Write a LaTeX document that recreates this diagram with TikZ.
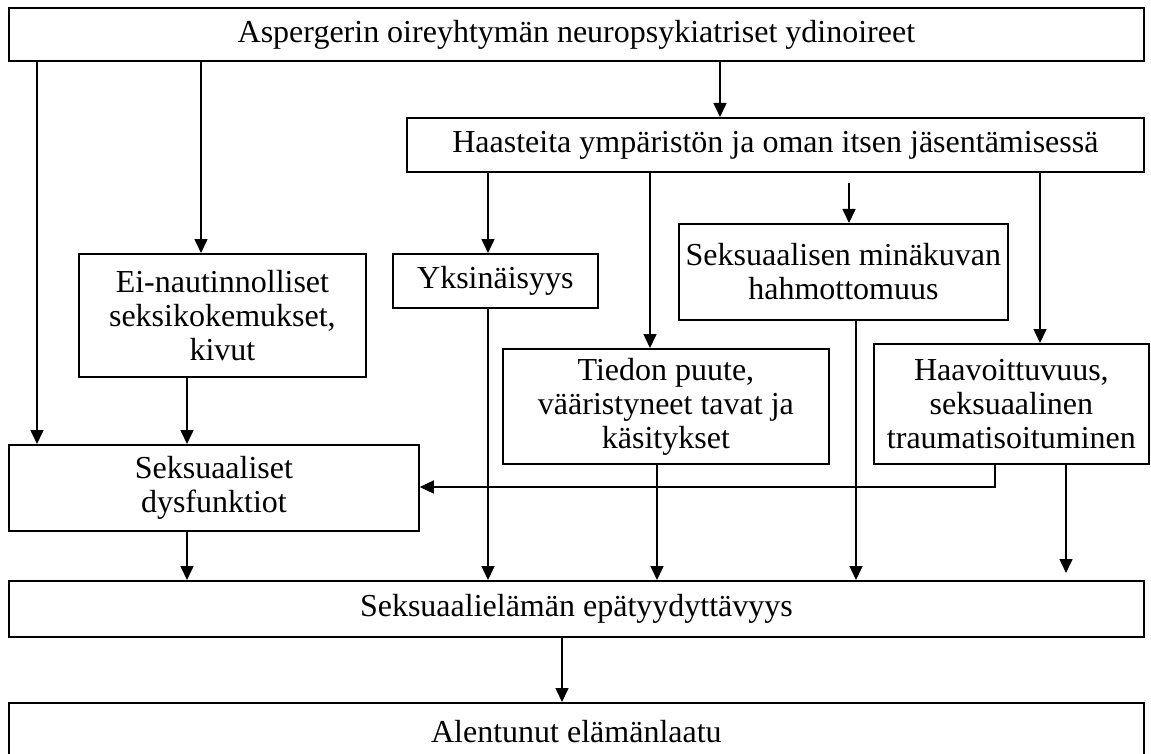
\documentclass[tikz,border=0pt]{standalone}
\usepackage{fontspec}
\setmainfont{Liberation Serif}
\usetikzlibrary{arrows.meta}
\begin{document}
\begin{tikzpicture}[x=1pt,y=-1pt,
  box/.style={draw, line width=1.8pt, align=center, inner sep=0pt, anchor=north west,
    font=\fontsize{32}{34}\selectfont},
  arr/.style={line width=1.6pt, -{Triangle[length=14pt,width=13pt]}},
  ln/.style={line width=1.6pt}]
\useasboundingbox (0,0) rectangle (1151,754);
\fill[white] (0,0) rectangle (1151,754);
% boxes (x, y of top-left corner; width; height)
\node[box, minimum width=1135, minimum height=53] (top) at (8,7) {Aspergerin oireyhtymän neuropsykiatriset ydinoireet};
\node[box, minimum width=737, minimum height=54] (haast) at (406,117) {Haasteita ympäristön ja oman itsen jäsentämisessä};
\node[box, minimum width=287, minimum height=123] (einaut) at (78,253) {Ei-nautinnolliset\\seksikokemukset,\\kivut};
\node[box, minimum width=205, minimum height=54] (yksin) at (392,253) {Yksinäisyys};
\node[box, minimum width=329, minimum height=96] (minak) at (678,223) {Seksuaalisen minäkuvan\\hahmottomuus};
\node[box, minimum width=326, minimum height=115] (tiedon) at (502,348) {Tiedon puute,\\vääristyneet tavat ja\\käsitykset};
\node[box, minimum width=275, minimum height=120] (haav) at (873,343) {Haavoittuvuus,\\seksuaalinen\\traumatisoituminen};
\node[box, minimum width=410, minimum height=86] (dysf) at (8,444) {Seksuaaliset\\dysfunktiot};
\node[box, minimum width=1135, minimum height=56] (seks) at (8,580) {Seksuaalielämän epätyydyttävyys};
\node[box, minimum width=1135, minimum height=58] (alent) at (8,702) {Alentunut elämänlaatu};
% x positions of connectors
\coordinate (x37) at (37,0);
\coordinate (x187) at (187,0);
\coordinate (x201) at (201,0);
\coordinate (x488) at (488,0);
\coordinate (x562) at (562,0);
\coordinate (x650) at (650,0);
\coordinate (x657) at (657,0);
\coordinate (x720) at (720,0);
\coordinate (x849) at (849,0);
\coordinate (x856) at (856,0);
\coordinate (x995) at (995,0);
\coordinate (x1040) at (1040,0);
\coordinate (x1066) at (1066,0);
\coordinate (m1) at (849,183);
\coordinate (m2) at (1066,573);
\coordinate (bend) at (995,487);
% connectors
\draw[arr] (top.south -| x37) -- (dysf.north -| x37);
\draw[arr] (top.south -| x201) -- (einaut.north -| x201);
\draw[arr] (top.south -| x720) -- (haast.north -| x720);
\draw[arr] (haast.south -| x488) -- (yksin.north -| x488);
\draw[arr] (haast.south -| x650) -- (tiedon.north -| x650);
\draw[arr] (m1) -- (minak.north -| x849);
\draw[arr] (haast.south -| x1040) -- (haav.north -| x1040);
\draw[arr] (einaut.south -| x187) -- (dysf.north -| x187);
\draw[arr] (haav.south -| x995) -- (bend) -- (dysf.east |- bend);
\draw[arr] (dysf.south -| x187) -- (seks.north -| x187);
\draw[arr] (yksin.south -| x488) -- (seks.north -| x488);
\draw[arr] (tiedon.south -| x657) -- (seks.north -| x657);
\draw[arr] (minak.south -| x856) -- (seks.north -| x856);
\draw[arr] (haav.south -| x1066) -- (m2);
\draw[arr] (seks.south -| x562) -- (alent.north -| x562);
\end{tikzpicture}
\end{document}
